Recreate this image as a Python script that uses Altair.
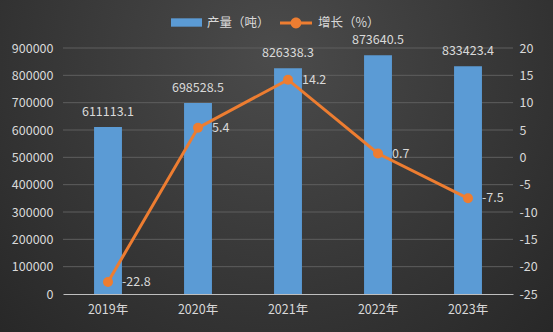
import altair as alt
import pandas as pd

years = ["2019年", "2020年", "2021年", "2022年", "2023年"]
output = [611113.1, 698528.5, 826338.3, 873640.5, 833423.4]
growth = [-22.8, 5.4, 14.2, 0.7, -7.5]
left_ticks = [0, 100000, 200000, 300000, 400000, 500000, 600000, 700000, 800000, 900000]
right_ticks = [-25, -20, -15, -10, -5, 0, 5, 10, 15, 20]
s_bar = "产量（吨）"
s_line = "增长（%）"

df = pd.DataFrame({"year": years, "output": output, "growth": growth,
                   "s1": s_bar, "s2": s_line})
df["output_lbl"] = [f"{v:.1f}" for v in output]
df["growth_lbl"] = [f"{v:.1f}" for v in growth]
grid_df = pd.DataFrame({"output": left_ticks[1:]})

FONT = "Noto Sans CJK SC"
TXT = "#d9d9d9"
BLUE = "#5b9bd5"
ORANGE = "#ed7d31"
FS = 12.5

x = alt.X("year:N", sort=years, title=None,
          scale=alt.Scale(paddingInner=0.69, paddingOuter=0.345),
          axis=alt.Axis(labelAngle=0, domainColor="#bfbfbf", domainWidth=1, ticks=False,
                        labelPadding=9, labelFontSize=FS, labelColor=TXT, labelFont=FONT,
                        grid=False, zindex=1))

yl = alt.Y("output:Q", title=None, scale=alt.Scale(domain=[0, 900000], nice=False),
           axis=alt.Axis(values=left_ticks, format="d", grid=False,
                         domain=False, ticks=False, labelPadding=10, labelFontSize=FS,
                         labelColor=TXT, labelFont=FONT, zindex=1))

yr = alt.Y("growth:Q", title=None, scale=alt.Scale(domain=[-25, 20], nice=False),
           axis=alt.Axis(orient="right", values=right_ticks, grid=False, domain=False,
                         ticks=False, labelPadding=6, labelFontSize=FS, labelColor=TXT,
                         labelFont=FONT, zindex=1, labelExpr="toString(datum.value)"))

bg = alt.Chart(alt.Data(values=[{"a": 1}])).mark_rect(
    color=alt.RadialGradient(gradient="radial", x1=0.5, y1=0.3, r1=0.0,
                             x2=0.5, y2=0.3, r2=0.8,
                             stops=[alt.GradientStop(offset=0, color="#4b4b4b"),
                                    alt.GradientStop(offset=1, color="#232323")])
).encode(x=alt.value(-63), x2=alt.value(490), y=alt.value(-48), y2=alt.value(284))

grid = alt.Chart(grid_df).mark_rule(color="#5e5e5e", strokeWidth=1).encode(y=yl)

bars = alt.Chart(df).mark_bar(
    color=alt.LinearGradient(gradient="linear", x1=0, y1=0, x2=0, y2=1,
                             stops=[alt.GradientStop(offset=0, color="#63a2dc"),
                                    alt.GradientStop(offset=1, color="#4f8fd0")])
).encode(
    x=x, y=yl,
    fill=alt.Fill("s1:N", scale=alt.Scale(range=[BLUE]),
                  legend=alt.Legend(title=None, orient="none", legendX=108, legendY=-41,
                                    padding=0, symbolType="M-1,-0.27H1V0.27H-1Z",
                                    symbolSize=961, symbolStrokeWidth=0, labelOffset=5,
                                    labelColor=TXT, labelFontSize=FS, labelFont=FONT))
)
bar_text = alt.Chart(df).mark_text(dy=-8, baseline="bottom", color=TXT, fontSize=FS,
                                   font=FONT).encode(
    x=x, y=yl, text="output_lbl:N")

line = alt.Chart(df).mark_line(strokeWidth=3).encode(
    x=x, y=yr,
    stroke=alt.Stroke("s2:N", scale=alt.Scale(range=[ORANGE]),
                      legend=alt.Legend(title=None, orient="none", legendX=217, legendY=-41,
                                        padding=0,
                                        symbolType="M-1,-0.1H1V0.1H-1Z M-0.34,0A0.34,0.34 0 1,1 0.34,0A0.34,0.34 0 1,1 -0.34,0Z",
                                        symbolSize=1024, symbolStrokeWidth=0,
                                        symbolFillColor=ORANGE, labelOffset=6,
                                        labelColor=TXT, labelFontSize=FS, labelFont=FONT))
)
points = alt.Chart(df).mark_point(filled=True, size=100, opacity=1, color=ORANGE).encode(
    x=x, y=yr)
line_text = alt.Chart(df).mark_text(align="left", dx=14, baseline="middle", color=TXT,
                                    fontSize=FS, font=FONT).encode(
    x=x, y=yr, text="growth_lbl:N")

left = alt.layer(grid, bars, bar_text)
right = alt.layer(line, points, line_text)

chart = alt.layer(bg, left, right).resolve_scale(y="independent").properties(
    width=450, height=246,
    autosize=alt.AutoSizeParams(type="none"),
    padding={"left": 63, "top": 48, "right": 40, "bottom": 38},
    background="#2e2e2e",
).configure_view(stroke=None)

chart.save("out.html", embed_options={"renderer": "svg", "actions": False})
